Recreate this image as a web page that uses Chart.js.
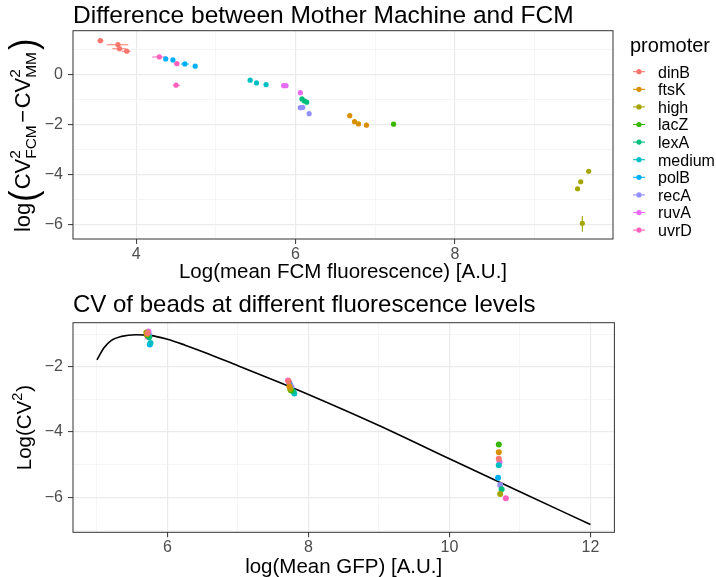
<!DOCTYPE html>
<html><head><meta charset="utf-8">
<script src="https://cdn.jsdelivr.net/npm/chart.js@4.4.1/dist/chart.umd.min.js"></script>
<style>
html,body{margin:0;padding:0;background:#fff;}
#wrap{position:relative;width:716px;height:577px;overflow:hidden;}
canvas{position:absolute;left:0;}
</style></head><body>
<div id="wrap">
<canvas id="top" width="716" height="288" style="top:0"></canvas>
<canvas id="bot" width="716" height="289" style="top:288px"></canvas>
</div>
<script>
// ---------- DATA ----------
const promoters = ['dinB','ftsK','high','lacZ','lexA','medium','polB','recA','ruvA','uvrD'];
const promoterColors = ['#F8766D','#D89000','#A3A500','#39B600','#00BF7D','#00BFC4','#00B0F6','#9590FF','#E76BF3','#FF62BC'];

// Top panel: difference between Mother Machine and FCM
const fcmPromoter = ['dinB','dinB','dinB','dinB','uvrD','uvrD','uvrD','polB','polB','polB','polB',
  'medium','medium','medium','ruvA','ruvA','ruvA','lexA','lexA','lexA','recA','recA','recA',
  'ftsK','ftsK','ftsK','ftsK','lacZ','high','high','high','high'];
const fcmX = [3.55,3.77,3.79,3.88,4.29,4.51,4.50,4.37,4.46,4.61,4.74,
  5.43,5.51,5.63,5.85,5.88,6.06,6.08,6.11,6.14,6.06,6.09,6.17,
  6.68,6.74,6.79,6.89,7.23,9.68,9.58,9.54,9.60];
const fcmY = [1.37,1.21,1.05,0.95,0.72,0.45,-0.41,0.64,0.60,0.44,0.35,
  -0.21,-0.32,-0.39,-0.43,-0.43,-0.71,-0.96,-1.04,-1.09,-1.31,-1.30,-1.55,
  -1.63,-1.87,-1.96,-2.01,-1.97,-3.85,-4.27,-4.55,-5.93];
const fcmXLow  = [3.51,3.63,3.70,3.82,4.20,4.47,4.46,null,null,4.56,null,
  null,null,null,null,null,null,null,null,null,null,null,null,
  null,null,null,null,null,null,null,null,null];
const fcmXHigh = [3.59,3.90,3.87,3.93,4.38,4.54,4.55,null,null,4.66,null,
  null,null,null,null,null,null,null,null,null,null,null,null,
  null,null,null,null,null,null,null,null,null];
const fcmYLow  = [null,null,null,null,null,null,null,null,null,null,null,
  null,null,null,null,null,null,null,null,null,null,null,null,
  null,null,null,null,null,null,null,null,-6.27];
const fcmYHigh = [null,null,null,null,null,null,null,null,null,null,null,
  null,null,null,null,null,null,null,null,null,null,null,null,
  null,null,null,null,null,null,null,null,-5.64];
const topXMajor = [4,6,8];
const topXMinor = [5,7,9];
const topYMajor = [0,-2,-4,-6];
const topYMinor = [1,-1,-3,-5];

// Bottom panel: CV of beads
const beadPromoter = ['dinB','ftsK','high','lacZ','lexA','medium','polB','recA','ruvA','uvrD',
  'dinB','ftsK','high','lacZ','lexA','medium','polB','recA','ruvA','uvrD',
  'dinB','ftsK','high','lacZ','lexA','medium','polB','recA','ruvA','uvrD'];
const beadX = [5.72,5.71,5.70,5.71,5.74,5.76,5.75,5.74,5.73,5.72,
  7.72,7.73,7.74,7.75,7.78,7.80,7.73,7.76,7.74,7.71,
  10.70,10.70,10.72,10.70,10.74,10.70,10.69,10.72,10.71,10.80];
const beadY = [-0.97,-1.00,-0.95,-1.03,-1.10,-1.27,-1.32,-1.02,-0.92,-1.08,
  -2.45,-2.60,-2.68,-2.72,-2.75,-2.82,-2.50,-2.62,-2.55,-2.42,
  -4.82,-4.62,-5.90,-4.38,-5.75,-5.02,-5.40,-5.62,-4.92,-6.03];
const curveX = [5.0,5.1,5.2,5.35,5.55,5.75,6.0,6.25,6.5,7.0,7.6,8.0,9.0,10.0,11.0,12.0];
const curveY = [-1.79,-1.42,-1.20,-1.07,-1.02,-1.04,-1.16,-1.34,-1.54,-1.97,-2.49,-2.85,-3.80,-4.82,-5.83,-6.83];
const botXMajor = [6,8,10,12];
const botXMinor = [5,7,9,11];
const botYMajor = [-2,-4,-6];
const botYMinor = [-1,-3,-5,-7];

// ---------- HELPERS ----------
const FAM = '"Liberation Sans", Arial, Helvetica, sans-serif';
const font = (s) => s + 'px ' + FAM;
const fmt = (v) => (v < 0 ? '\u2212' + Math.abs(v) : String(v));
const colorOf = (p) => promoterColors[promoters.indexOf(p)];

function axis(min, max, major, minor, isX, h) {
  return {
    type: 'linear', min: min, max: max,
    position: isX ? 'bottom' : 'left',
    afterBuildTicks: (s) => { s.ticks = major.concat(minor).sort((a,b)=>a-b).map(v => ({value: v})); },
    afterFit: (s) => { if (isX) s.height = h; else s.width = h; },
    border: {display: false},
    grid: {
      color: (c) => major.includes(c.tick.value) ? '#EBEBEB' : '#F1F1F1',
      lineWidth: (c) => major.includes(c.tick.value) ? 1.2 : 0.7,
      tickColor: (c) => major.includes(c.tick.value) ? '#333333' : 'rgba(0,0,0,0)',
      tickWidth: 1, tickLength: 5, drawTicks: true
    },
    ticks: {
      autoSkip: false, maxRotation: 0, padding: isX ? 1 : 5,
      color: '#4D4D4D', font: {family: FAM, size: 16},
      callback: (v) => major.includes(v) ? fmt(v) : ''
    }
  };
}

function drawBorder(chart) {
  const a = chart.chartArea, ctx = chart.ctx;
  ctx.save(); ctx.strokeStyle = '#333333'; ctx.lineWidth = 1;
  ctx.strokeRect(a.left, a.top, a.right - a.left, a.bottom - a.top);
  ctx.restore();
}

function text(ctx, s, x, y, size, align, color) {
  ctx.save(); ctx.font = font(size); ctx.fillStyle = color || '#000';
  ctx.textAlign = align || 'left'; ctx.textBaseline = 'alphabetic';
  ctx.fillText(s, x, y); ctx.restore();
}

function drawRotatedMath(ctx, cx, cy, items) {
  ctx.save(); ctx.translate(cx, cy); ctx.rotate(-Math.PI / 2);
  ctx.fillStyle = '#000'; ctx.textBaseline = 'alphabetic'; ctx.textAlign = 'left';
  const widths = items.map(it => {
    ctx.font = font(it.size);
    if (it.sup !== undefined) return Math.max(ctx.measureText(it.sup).width, ctx.measureText(it.sub || '').width) + (it.pad || 0);
    return ctx.measureText(it.s).width + 2 * (it.pad || 0);
  });
  let u = -widths.reduce((a, b) => a + b, 0) / 2;
  items.forEach((it, i) => {
    ctx.font = font(it.size);
    if (it.sup !== undefined) {
      ctx.fillText(it.sup, u, it.supDy);
      if (it.sub) ctx.fillText(it.sub, u, it.subDy);
    } else {
      ctx.save(); ctx.translate(u + (it.pad || 0), it.dy || 0);
      if (it.sy) ctx.scale(1, it.sy);
      ctx.fillText(it.s, 0, 0); ctx.restore();
    }
    u += widths[i];
  });
  ctx.restore();
}

// ---------- TOP CHART ----------
const topDatasets = promoters.map((p, k) => {
  const pts = [];
  fcmPromoter.forEach((q, i) => { if (q === p) pts.push({x: fcmX[i], y: fcmY[i]}); });
  return {label: p, data: pts, pointRadius: 2.6, pointHoverRadius: 2.6,
    backgroundColor: promoterColors[k], borderWidth: 0, showLine: false};
});

const topPlugin = {
  id: 'topDecor',
  beforeDatasetsDraw(chart) {
    const ctx = chart.ctx, xs = chart.scales.x, ys = chart.scales.y, a = chart.chartArea;
    ctx.save();
    ctx.beginPath(); ctx.rect(a.left, a.top, a.right - a.left, a.bottom - a.top); ctx.clip();
    ctx.lineWidth = 1.1;
    fcmX.forEach((xv, i) => {
      ctx.strokeStyle = colorOf(fcmPromoter[i]);
      if (fcmXLow[i] !== null) {
        const py = ys.getPixelForValue(fcmY[i]);
        ctx.beginPath(); ctx.moveTo(xs.getPixelForValue(fcmXLow[i]), py);
        ctx.lineTo(xs.getPixelForValue(fcmXHigh[i]), py); ctx.stroke();
      }
      if (fcmYLow[i] !== null) {
        const px = xs.getPixelForValue(xv);
        ctx.beginPath(); ctx.moveTo(px, ys.getPixelForValue(fcmYLow[i]));
        ctx.lineTo(px, ys.getPixelForValue(fcmYHigh[i])); ctx.stroke();
      }
    });
    ctx.restore();
  },
  afterDraw(chart) {
    const ctx = chart.ctx, a = chart.chartArea;
    drawBorder(chart);
    text(ctx, 'Difference between Mother Machine and FCM', 73, 23, 24.5, 'left');
    text(ctx, 'Log(mean FCM fluorescence) [A.U.]', (a.left + a.right) / 2, 278, 20.5, 'center');
    drawRotatedMath(ctx, 30, (a.top + a.bottom) / 2, [
      {s: 'log', size: 22},
      {s: '(', size: 34, dy: 6, sy: 1.15, pad: 1},
      {s: 'CV', size: 22},
      {sup: '2', sub: 'FCM', size: 15.5, supDy: -10, subDy: 6, pad: 1},
      {s: '\u2212', size: 22, pad: 1.5},
      {s: 'CV', size: 22},
      {sup: '2', sub: 'MM', size: 15.5, supDy: -10, subDy: 6, pad: 1},
      {s: ')', size: 34, dy: 6, sy: 1.15, pad: 1}
    ]);
    // legend
    text(ctx, 'promoter', 630, 52, 20, 'left');
    promoters.forEach((p, i) => {
      const y = 71.7 + i * 17.6;
      ctx.save();
      ctx.strokeStyle = promoterColors[i]; ctx.fillStyle = promoterColors[i]; ctx.lineWidth = 1.1;
      ctx.beginPath(); ctx.moveTo(633, y); ctx.lineTo(645, y); ctx.stroke();
      ctx.beginPath(); ctx.arc(639, y, 2.6, 0, Math.PI * 2); ctx.fill();
      ctx.restore();
      text(ctx, p, 658, y + 5.8, 16, 'left');
    });
  }
};

new Chart(document.getElementById('top'), {
  type: 'scatter',
  data: {datasets: topDatasets},
  options: {
    responsive: false, animation: false, devicePixelRatio: 1,
    layout: {padding: {top: 30.7, right: 103, left: 0, bottom: 0}},
    plugins: {legend: {display: false}, tooltip: {enabled: false}},
    scales: {
      x: axis(3.206, 9.985, topXMajor, topXMinor, true, 49),
      y: axis(-6.56, 1.77, topYMajor, topYMinor, false, 73)
    }
  },
  plugins: [topPlugin]
});

// ---------- BOTTOM CHART ----------
const botDatasets = promoters.map((p, k) => {
  const pts = [];
  beadPromoter.forEach((q, i) => { if (q === p) pts.push({x: beadX[i], y: beadY[i]}); });
  return {label: p, data: pts, pointRadius: 3, pointHoverRadius: 3,
    backgroundColor: promoterColors[k], borderWidth: 0, showLine: false};
});
botDatasets.push({
  label: 'fit', data: curveX.map((x, i) => ({x: x, y: curveY[i]})),
  showLine: true, pointRadius: 0, borderColor: '#000000', borderWidth: 1.6,
  cubicInterpolationMode: 'monotone', fill: false
});

const botPlugin = {
  id: 'botDecor',
  afterDraw(chart) {
    const ctx = chart.ctx, a = chart.chartArea;
    drawBorder(chart);
    text(ctx, 'CV of beads at different fluorescence levels', 73, 23.5, 24, 'left');
    text(ctx, 'log(Mean GFP) [A.U.]', (a.left + a.right) / 2, 285, 20.5, 'center');
    drawRotatedMath(ctx, 31, (a.top + a.bottom) / 2, [
      {s: 'Log(CV', size: 20.5},
      {sup: '2', size: 14.5, supDy: -9, pad: 1},
      {s: ')', size: 20.5}
    ]);
  }
};

new Chart(document.getElementById('bot'), {
  type: 'scatter',
  data: {datasets: botDatasets},
  options: {
    responsive: false, animation: false, devicePixelRatio: 1,
    layout: {padding: {top: 34.7, right: 101.6, left: 0, bottom: 0}},
    plugins: {legend: {display: false}, tooltip: {enabled: false}},
    scales: {
      x: axis(4.66, 12.34, botXMajor, botXMinor, true, 44.7),
      y: axis(-7.07, -0.652, botYMajor, botYMinor, false, 73)
    }
  },
  plugins: [botPlugin]
});
</script>
</body></html>
